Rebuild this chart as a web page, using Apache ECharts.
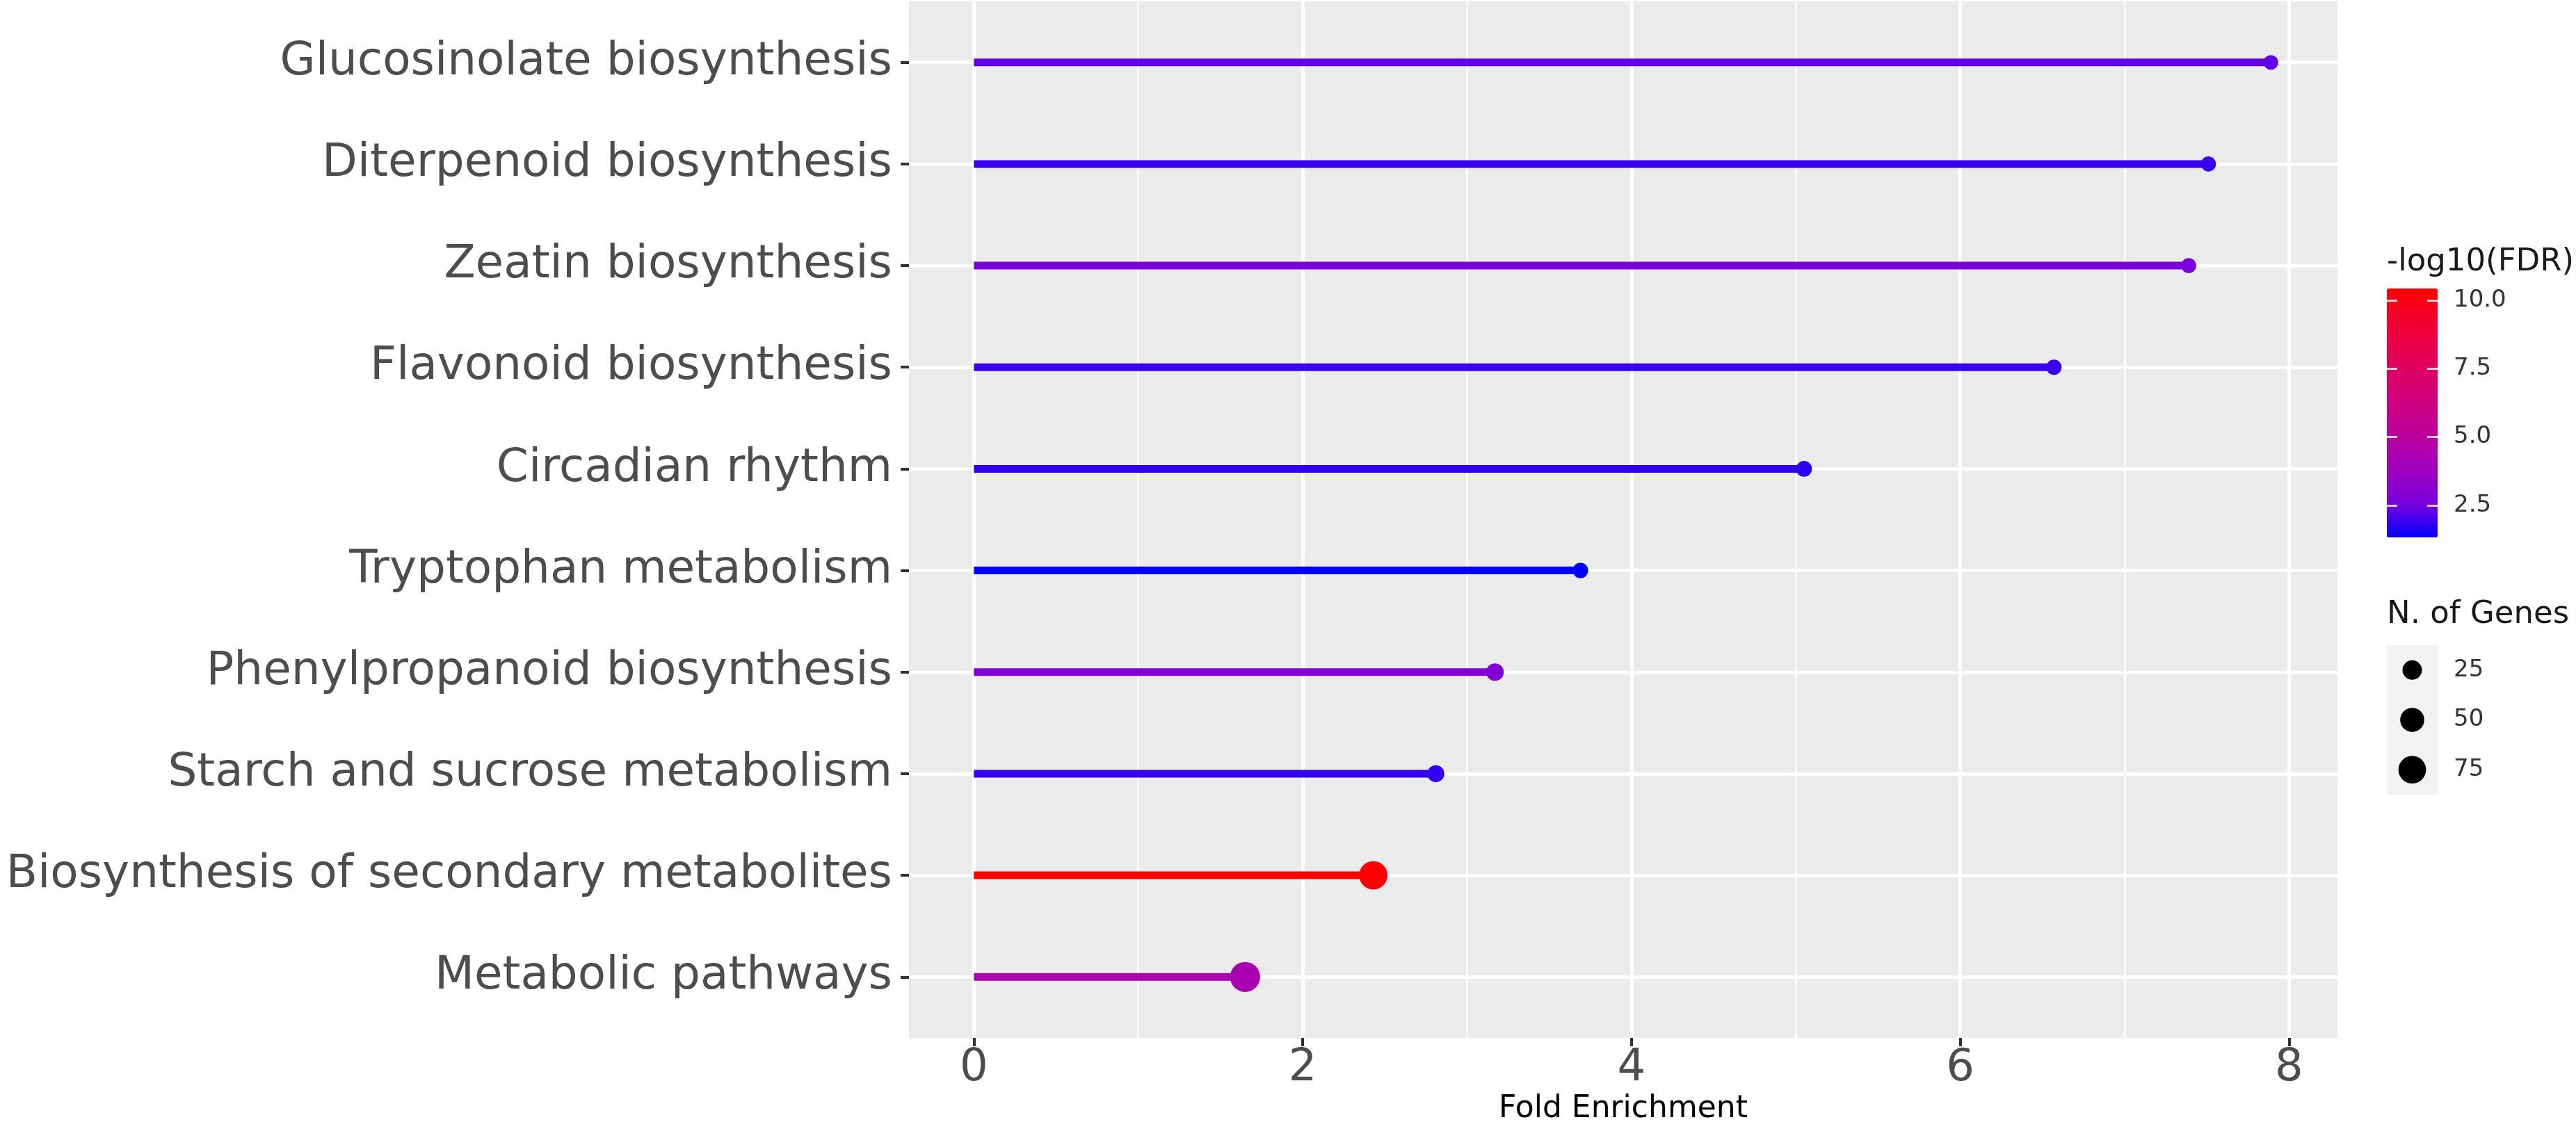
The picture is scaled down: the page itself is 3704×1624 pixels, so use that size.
<!DOCTYPE html>
<html>
<head>
<meta charset="utf-8">
<title>KEGG enrichment lollipop</title>
<script src="https://cdn.jsdelivr.net/npm/echarts@6/dist/echarts.min.js"></script>
<style>
  html, body { margin: 0; padding: 0; background: #ffffff; }
  #chartmain { width: 3704px; height: 1624px; }
</style>
</head>
<body>
<div id="chartmain"></div>
<script>
// pathways, top to bottom
var pathways = ['Glucosinolate biosynthesis', 'Diterpenoid biosynthesis', 'Zeatin biosynthesis',
    'Flavonoid biosynthesis', 'Circadian rhythm', 'Tryptophan metabolism',
    'Phenylpropanoid biosynthesis', 'Starch and sucrose metabolism',
    'Biosynthesis of secondary metabolites', 'Metabolic pathways'];
var foldEnrichment = [7.89, 7.51, 7.39, 6.57, 5.05, 3.69, 3.17, 2.81, 2.43, 1.65];
var log10FDR = [2.3, 1.9, 2.7, 1.9, 1.8, 1.33, 2.9, 1.85, 10.43, 4.3];
var nGenes = [8, 9, 9, 10, 11, 10, 17, 15, 80, 95];

var rowTicks = [0, 1, 2, 3, 4, 5, 6, 7, 8, 9];
var xTicks = [0, 2, 4, 6, 8];
var xMinorTicks = [1, 3, 5, 7];
var fdrTicks = [2.5, 5, 7.5, 10];
var sizeBreaks = ['25', '50', '75'];

// blue -> red ramp (Lab-like stops, as ggplot does it)
var ramp = ['#0000ff', '#7300e1', '#9a00c3', '#b500a5', '#c90088', '#da006c', '#e80050', '#f40031', '#ff0000'];

var FONT = 'DejaVu Sans';

function sizeFor(g) {
    return 12 + 3.2 * Math.sqrt(g);
}

var rows = [];
for (var i = 0; i < pathways.length; i++) {
    rows.push([foldEnrichment[i], i, log10FDR[i], nGenes[i]]);
}
var fdrMin = Math.min.apply(null, log10FDR);
var fdrMax = Math.max.apply(null, log10FDR);

function renderStem(params, api) {
    var a = api.coord([0, api.value(1)]);
    var b = api.coord([api.value(0), api.value(1)]);
    return {
        type: 'line',
        shape: { x1: a[0], y1: a[1], x2: b[0], y2: b[1] },
        style: { stroke: api.visual('color'), lineWidth: 11, lineCap: 'butt' }
    };
}

var myChart = echarts.init(document.getElementById('chartmain'));
var options = {
    animation: false,
    backgroundColor: '#ffffff',
    grid: [
        // main panel
        { left: 1307, top: 2, width: 2054, height: 1491, show: true, backgroundColor: '#ebebeb', borderWidth: 0 },
        // colour bar
        { left: 3432, top: 415, width: 73, height: 358, show: false },
        // size keys
        { left: 3432, top: 928, width: 73, height: 215, show: true, backgroundColor: '#f2f2f2', borderWidth: 0 }
    ],
    xAxis: [
        {
            gridIndex: 0, type: 'value', min: -0.395, max: 8.295, position: 'bottom',
            name: 'Fold Enrichment', nameLocation: 'middle', nameGap: 80,
            nameTextStyle: { fontFamily: FONT, fontSize: 44, color: '#000000' },
            axisLine: { show: false, onZero: false },
            axisTick: { show: true, length: 12, customValues: xTicks, lineStyle: { color: '#333333', width: 4 } },
            axisLabel: { customValues: xTicks, margin: 12, fontFamily: FONT, fontSize: 64, color: '#4d4d4d' },
            splitLine: { show: true, lineStyle: { color: '#ffffff', width: 5 } }
        },
        {
            gridIndex: 0, type: 'value', min: -0.395, max: 8.295, position: 'top',
            axisLine: { show: false, onZero: false },
            axisTick: { show: false, customValues: xMinorTicks },
            axisLabel: { show: false },
            splitLine: { show: true, lineStyle: { color: '#ffffff', width: 2.5 } }
        },
        { gridIndex: 1, type: 'value', show: false },
        { gridIndex: 2, type: 'value', min: -1, max: 1, show: false }
    ],
    yAxis: [
        {
            gridIndex: 0, type: 'value', inverse: true, min: -0.6, max: 9.6, position: 'left',
            axisLine: { show: false, onZero: false },
            axisTick: { show: true, length: 12, customValues: rowTicks, lineStyle: { color: '#333333', width: 4 } },
            axisLabel: {
                customValues: rowTicks, margin: 24,
                fontFamily: FONT, fontSize: 66, color: '#4d4d4d',
                formatter: function (v) { return pathways[Math.round(v)]; }
            },
            splitLine: { show: true, lineStyle: { color: '#ffffff', width: 5 } }
        },
        {
            gridIndex: 1, type: 'value', min: fdrMin, max: fdrMax, position: 'left', z: 10,
            axisLine: { show: false, onZero: false },
            axisTick: { show: true, inside: true, length: 15, customValues: fdrTicks, lineStyle: { color: '#ffffff', width: 3, opacity: 0.8 } },
            axisLabel: { show: false },
            splitLine: { show: false }
        },
        {
            gridIndex: 1, type: 'value', min: fdrMin, max: fdrMax, position: 'right', z: 10,
            axisLine: { show: false, onZero: false },
            axisTick: { show: true, inside: true, length: 15, customValues: fdrTicks, lineStyle: { color: '#ffffff', width: 3, opacity: 0.8 } },
            axisLabel: {
                customValues: fdrTicks, margin: 23, fontFamily: FONT, fontSize: 34, color: '#333333',
                formatter: function (v) { return v.toFixed(1); }
            },
            splitLine: { show: false }
        },
        {
            gridIndex: 2, type: 'category', data: sizeBreaks, inverse: true, position: 'right',
            axisLine: { show: false, onZero: false },
            axisTick: { show: false },
            axisLabel: { margin: 23, fontFamily: FONT, fontSize: 34, color: '#333333' },
            splitLine: { show: false }
        }
    ],
    visualMap: {
        type: 'continuous',
        min: fdrMin, max: fdrMax,
        dimension: 2,
        seriesIndex: [0, 1],
        calculable: false,
        hoverLink: false,
        text: null,
        padding: 0,
        left: 3432, top: 415,
        itemWidth: 73, itemHeight: 358,
        inRange: { color: ramp }
    },
    graphic: [
        { type: 'text', x: 3432, y: 377, style: { text: '-log10(FDR)', font: '45px "DejaVu Sans"', fill: '#1a1a1a', verticalAlign: 'middle' } },
        { type: 'text', x: 3432, y: 884, style: { text: 'N. of Genes', font: '45px "DejaVu Sans"', fill: '#1a1a1a', verticalAlign: 'middle' } }
    ],
    series: [
        {
            name: 'stems', type: 'custom',
            xAxisIndex: 0, yAxisIndex: 0,
            renderItem: renderStem,
            encode: { x: 0, y: 1 },
            data: rows
        },
        {
            name: 'points', type: 'scatter',
            xAxisIndex: 0, yAxisIndex: 0,
            encode: { x: 0, y: 1 },
            symbolSize: function (d) { return sizeFor(d[3]); },
            itemStyle: { opacity: 1 },
            data: rows
        },
        {
            name: 'size key', type: 'scatter',
            xAxisIndex: 3, yAxisIndex: 3,
            symbolSize: function (d) { return sizeFor(Number(d[1])); },
            itemStyle: { color: '#000000', opacity: 1 },
            data: sizeBreaks.map(function (s) { return [0, s]; })
        }
    ]
};
myChart.setOption(options);
</script>
</body>
</html>
